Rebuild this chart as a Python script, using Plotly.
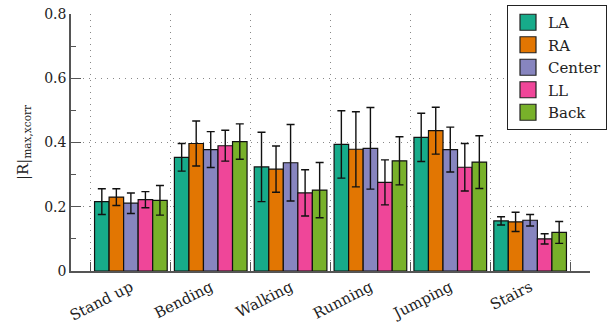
import plotly.graph_objects as go

categories = ["Stand up", "Bending", "Walking", "Running", "Jumping", "Stairs"]
series = ["LA", "RA", "Center", "LL", "Back"]
colors = ["#17AB8A", "#E27602", "#8785BF", "#EF4699", "#78B12A"]

values = {
    "LA":     [0.216, 0.354, 0.324, 0.394, 0.416, 0.156],
    "RA":     [0.230, 0.397, 0.317, 0.379, 0.437, 0.153],
    "Center": [0.211, 0.378, 0.337, 0.382, 0.378, 0.158],
    "LL":     [0.222, 0.390, 0.243, 0.276, 0.323, 0.100],
    "Back":   [0.220, 0.403, 0.252, 0.343, 0.339, 0.120],
}
errors = {
    "LA":     [0.040, 0.043, 0.108, 0.105, 0.075, 0.013],
    "RA":     [0.026, 0.070, 0.072, 0.117, 0.073, 0.030],
    "Center": [0.032, 0.056, 0.119, 0.127, 0.070, 0.018],
    "LL":     [0.025, 0.048, 0.072, 0.070, 0.074, 0.016],
    "Back":   [0.046, 0.055, 0.086, 0.075, 0.082, 0.034],
}
y_ticks = [0, 0.2, 0.4, 0.6, 0.8]
y_ticktext = ["0", "0.2", "0.4", "0.6", "0.8"]
y_minor = [0.1, 0.3, 0.5, 0.7]

FONT = "DejaVu Serif"

W, H = 616, 324
fig = go.Figure()
for s, c in zip(series, colors):
    fig.add_trace(go.Bar(
        x=categories, y=values[s], name=s, showlegend=False,
        marker=dict(color=c, line=dict(color="#111111", width=1.2)),
        error_y=dict(type="data", array=errors[s], color="#111111", thickness=1.4, width=4),
    ))
    fig.add_trace(go.Scatter(
        x=[None], y=[None], mode="markers", name=s,
        marker=dict(symbol="square", size=16, color=c, line=dict(color="#222222", width=1.2)),
    ))

fig.update_layout(
    width=W, height=H,
    margin=dict(l=71, r=26, t=14, b=53, autoexpand=False),
    paper_bgcolor="white", plot_bgcolor="white",
    barmode="group", bargap=0.09, bargroupgap=0,
    font=dict(family=FONT, size=14, color="#222222"),
    legend=dict(x=507 / W, y=1 - 5 / H, xref="container", yref="container",
                xanchor="left", yanchor="top",
                bordercolor="#222222", borderwidth=1, bgcolor="white",
                font=dict(family=FONT, size=15), tracegroupgap=0),
    xaxis=dict(
        type="category", range=[-0.75, 5.75], tickson="boundaries", automargin=False,
        showline=True, linecolor="#555555", linewidth=1.5,
        ticks="inside", ticklen=9, tickcolor="#555555", tickwidth=1.2,
        showgrid=True, gridcolor="#888888", griddash="1px,5px", gridwidth=1,
        tickangle=-27, tickfont=dict(family=FONT, size=15),
    ),
    yaxis=dict(
        range=[0, 0.8001], tickvals=y_ticks, ticktext=y_ticktext,
        automargin=False, ticklabeloverflow="allow",
        showline=True, linecolor="#555555", linewidth=1.5,
        ticks="inside", ticklen=10, tickcolor="#555555", tickwidth=1.2,
        showgrid=True, gridcolor="#888888", griddash="1px,5px", gridwidth=1,
        zeroline=False,
        minor=dict(tickvals=y_minor, ticks="inside", ticklen=5, tickcolor="#555555", showgrid=False),
        tickfont=dict(family=FONT, size=14),
        title=dict(text="|R|<sub>max,xcorr</sub>", font=dict(family=FONT, size=15), standoff=12),
    ),
)

# remove the default 8px page margin so the 616x324 figure fills the window
fig.write_html("out.html", config={"displayModeBar": False},
               post_script="document.body.style.margin='0';")
